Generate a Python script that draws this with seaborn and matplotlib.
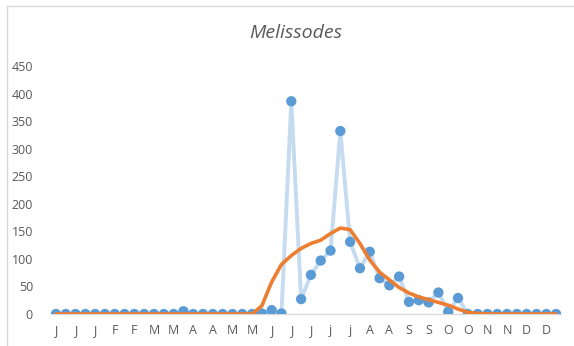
import matplotlib.pyplot as plt
import pandas as pd
import seaborn as sns
from matplotlib.patches import Rectangle

# weekly counts (52 weeks)
weeks = list(range(52))
counts = [0, 0, 0, 0, 0, 0, 0, 0, 0, 0, 0, 0, 0, 5, 0, 0, 0, 0, 0, 0,
          0, 1, 7, 1, 386, 27, 71, 97, 115, 332, 131, 83, 113, 65, 52, 68,
          22, 25, 21, 39, 4, 29, 0, 0, 0, 0, 0, 0, 0, 0, 0, 0]
trend = [0, 0, 0, 0, 0, 0, 0, 0, 0, 0, 0, 0, 0, 0, 0, 0, 0, 0, 0, 0,
         0, 15, 58, 90, 106, 119, 128, 134, 146, 156, 153, 128, 98, 76, 62, 48,
         38, 31, 26, 21, 16, 9, 3, 1, 0, 0, 0, 0, 0, 0, 0, 0]
tick_pos = list(range(0, 52, 2))
tick_labels = ["J", "J", "J", "F", "F", "M", "M", "A", "A", "M", "M", "J", "J",
               "J", "j", "j", "A", "A", "S", "S", "O", "O", "N", "N", "D", "D"]

df = pd.DataFrame({"week": weeks, "count": counts, "trend": trend})

sns.set_theme(style="white")
plt.rcParams['font.family'] = ['Open Sans', 'DejaVu Sans']

fig = plt.figure(figsize=(5.74, 3.46), dpi=100)
ax = fig.add_axes([51/574, 32/346, 510/574, 248/346])

sns.lineplot(data=df, x="week", y="count", color="#C5DBF0", linewidth=2.8, ax=ax, zorder=2)
sns.scatterplot(data=df, x="week", y="count", color="#5B9BD5", s=55, edgecolor="none", ax=ax, zorder=3)
sns.lineplot(data=df, x="week", y="trend", color="#ED7D31", linewidth=2.6, ax=ax, zorder=4)

ax.set_xlim(-0.5, 51.5)
ax.set_ylim(0, 450)
ax.set_yticks(range(0, 451, 50))
ax.set_xticks(tick_pos)
ax.set_xticklabels(tick_labels)
ax.set_xlabel("")
ax.set_ylabel("")
ax.tick_params(axis="y", length=0, pad=13, labelsize=9, labelcolor="#595959")
ax.tick_params(axis="x", length=0, pad=7, labelsize=9, labelcolor="#595959")
for side in ["top", "right", "left"]:
    ax.spines[side].set_visible(False)
ax.spines["bottom"].set_color("#D9D9D9")
ax.spines["bottom"].set_linewidth(1)
ax.spines["bottom"].set_zorder(1)

fig.text(296/574, 1 - 33/346, "Melissodes", ha="center", va="center",
         fontsize=14, fontstyle="italic", color="#595959")

# chart border
fig.add_artist(Rectangle((7/574, -0.1), 1.2, 0.1 + 340/346, transform=fig.transFigure,
                         fill=False, edgecolor="#D9D9D9", linewidth=1))

fig.savefig("out.png", dpi=100)
